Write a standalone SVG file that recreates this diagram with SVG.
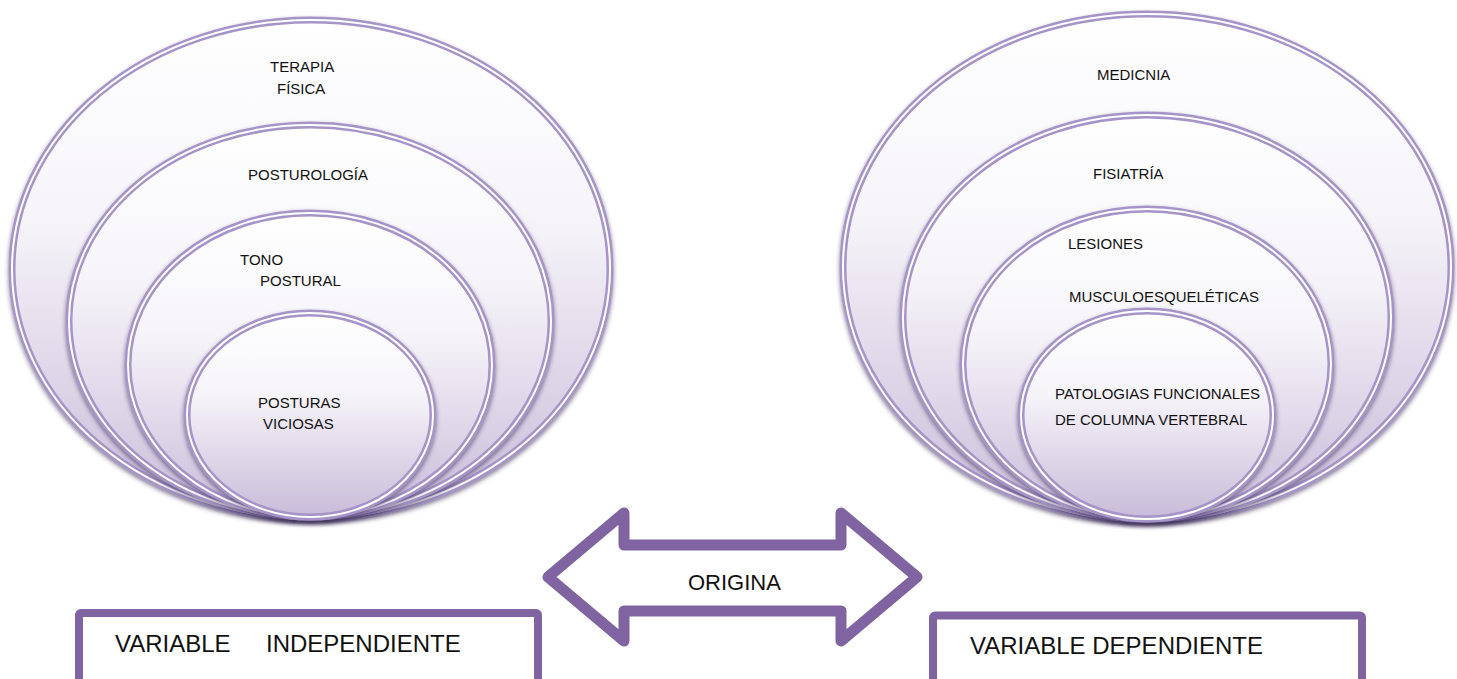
<svg xmlns="http://www.w3.org/2000/svg" width="1457" height="679" viewBox="0 0 1457 679">
<style>
.ring{fill:url(#g);stroke:#a694c8;stroke-width:7;filter:url(#sh)}
.inner{fill:none;stroke:#ffffff;stroke-width:2}
.t{font-family:"Liberation Sans",Arial,sans-serif;font-size:15px;fill:#111}
.big{font-family:"Liberation Sans",Arial,sans-serif;font-size:24px;fill:#111}
.box{fill:#fff;stroke:#8064a2;stroke-width:8;stroke-linejoin:round}
</style>
<defs>
<linearGradient id="g" x1="0" y1="0" x2="0" y2="1">
<stop offset="0" stop-color="#ffffff"/>
<stop offset="0.4" stop-color="#f6f4f9"/>
<stop offset="1" stop-color="#c8bbd9"/>
</linearGradient>
<filter id="sh" x="-5%" y="-5%" width="110%" height="115%">
<feDropShadow dx="0" dy="2.5" stdDeviation="2" flood-color="#35264f" flood-opacity="0.6"/>
</filter>
</defs>
<rect width="1457" height="679" fill="#fff"/>

<g id="terapia">
<ellipse class="ring" cx="311" cy="269" rx="299" ry="249"/>
<ellipse class="inner" cx="311" cy="269" rx="299" ry="249"/>
<text class="t" x="270" y="72">TERAPIA</text>
<text class="t" x="277" y="94">FÍSICA</text>
</g>
<g id="posturologia">
<ellipse class="ring" cx="310" cy="321" rx="241" ry="196"/>
<ellipse class="inner" cx="310" cy="321" rx="241" ry="196"/>
<text class="t" x="248" y="180">POSTUROLOGÍA</text>
</g>
<g id="tono">
<ellipse class="ring" cx="310" cy="365" rx="182" ry="152"/>
<ellipse class="inner" cx="310" cy="365" rx="182" ry="152"/>
<text class="t" x="240" y="265">TONO</text>
<text class="t" x="260" y="286">POSTURAL</text>
</g>
<g id="posturas">
<ellipse class="ring" cx="310" cy="415" rx="123" ry="102"/>
<ellipse class="inner" cx="310" cy="415" rx="123" ry="102"/>
<text class="t" x="258" y="408">POSTURAS</text>
<text class="t" x="263" y="429">VICIOSAS</text>
</g>

<g id="medicina">
<ellipse class="ring" cx="1147" cy="267" rx="304" ry="253"/>
<ellipse class="inner" cx="1147" cy="267" rx="304" ry="253"/>
<text class="t" x="1097" y="80">MEDICNIA</text>
</g>
<g id="fisiatria">
<ellipse class="ring" cx="1147" cy="317" rx="244" ry="202"/>
<ellipse class="inner" cx="1147" cy="317" rx="244" ry="202"/>
<text class="t" x="1093" y="179">FISIATRÍA</text>
</g>
<g id="lesiones">
<ellipse class="ring" cx="1147" cy="364" rx="184" ry="155"/>
<ellipse class="inner" cx="1147" cy="364" rx="184" ry="155"/>
<text class="t" x="1068" y="249">LESIONES</text>
<text class="t" x="1069" y="302">MUSCULOESQUELÉTICAS</text>
</g>
<g id="patologias">
<ellipse class="ring" cx="1147" cy="415" rx="126" ry="104"/>
<ellipse class="inner" cx="1147" cy="415" rx="126" ry="104"/>
<text class="t" x="1055" y="399">PATOLOGIAS FUNCIONALES</text>
<text class="t" x="1055" y="425">DE COLUMNA VERTEBRAL</text>
</g>

<g id="connectors">
<path d="M548,577 L624,513 L624,545 L841,545 L841,513 L917,577 L841,641 L841,611 L624,611 L624,641 Z" fill="#fff" stroke="#8064a2" stroke-width="11" stroke-linejoin="round"/>
<text class="t" x="688" y="590" style="font-size:22px">ORIGINA</text>
</g>

<g id="var-independiente">
<rect class="box" x="79" y="613" width="459" height="90" rx="2"/>
<text class="big" x="115" y="652">VARIABLE</text>
<text class="big" x="266" y="652">INDEPENDIENTE</text>
</g>
<g id="var-dependiente">
<rect class="box" x="933" y="615.5" width="429" height="90" rx="2"/>
<text class="big" x="970" y="654">VARIABLE DEPENDIENTE</text>
</g>
</svg>
